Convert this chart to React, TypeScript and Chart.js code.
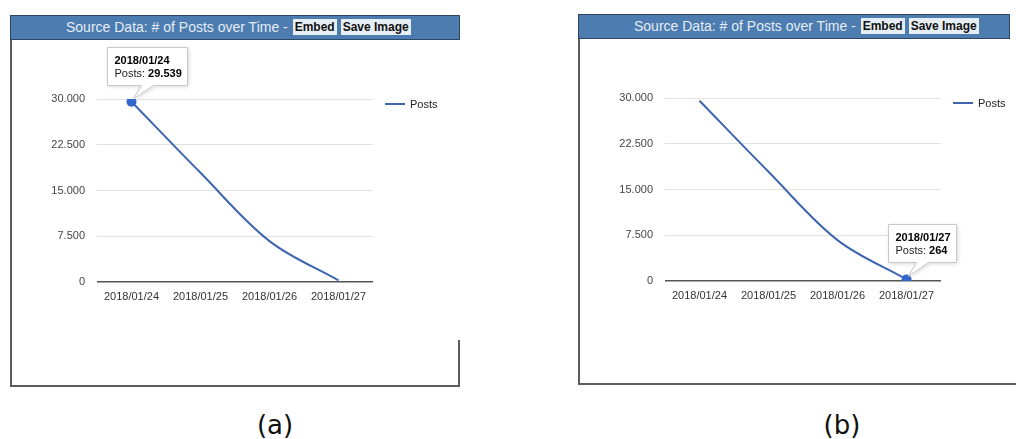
import React, { useEffect, useRef } from "react";
import { Chart, registerables } from "chart.js";

Chart.register(...registerables);

const categories = ["2018/01/24", "2018/01/25", "2018/01/26", "2018/01/27"];
const postsValues = [29539, 17900, 6700, 264];
const yTicks = [0, 7500, 15000, 22500, 30000];
const seriesName = "Posts";
const headerTitle = "Source Data: # of Posts over Time - ";
const buttonLabels = ["Embed", "Save Image"];
const captions = ["(a)", "(b)"];
const highlighted = [0, 3];

const FONT = "Arial, 'Liberation Sans', sans-serif";
const LINE_COLOR = "#3f65b0";
const POINT_COLOR = "#3366cc";

function fmt(v: number): string {
  return String(Math.round(v)).replace(/\B(?=(\d{3})+(?!\d))/g, ".");
}

const legendPlugin = {
  id: "sideLegend",
  afterDraw(chart: any) {
    const { ctx, chartArea } = chart;
    const ds = chart.data.datasets[0];
    const x = chartArea.right + 12;
    const y = chartArea.top + 5;
    ctx.save();
    ctx.strokeStyle = ds.borderColor;
    ctx.lineWidth = 2;
    ctx.beginPath();
    ctx.moveTo(x, y);
    ctx.lineTo(x + 20, y);
    ctx.stroke();
    ctx.fillStyle = "#222";
    ctx.font = `11px ${FONT}`;
    ctx.textBaseline = "middle";
    ctx.textAlign = "left";
    ctx.fillText(ds.label, x + 25, y + 1);
    ctx.restore();
  },
};

const calloutPlugin = {
  id: "calloutTip",
  afterDatasetsDraw(chart: any, _args: any, opts: any) {
    const i = opts.index;
    const meta = chart.getDatasetMeta(0);
    const el = meta.data[i];
    if (!el) return;
    const px = el.x;
    const py = el.y;
    const ds = chart.data.datasets[0];
    const title = String(chart.data.labels[i]);
    const prefix = ds.label + ": ";
    const val = fmt(ds.data[i]);
    const { ctx } = chart;
    ctx.save();
    ctx.font = `bold 11px ${FONT}`;
    const tw = ctx.measureText(title).width;
    const vw = ctx.measureText(val).width;
    ctx.font = `11px ${FONT}`;
    const pw = ctx.measureText(prefix).width;
    const w = Math.round(Math.max(tw, pw + vw) + 13);
    const h = 38;
    const bx = Math.round(px + 15 - w / 2) + 0.5;
    const by = Math.round(py - 55) + 0.5;
    ctx.beginPath();
    ctx.moveTo(bx, by);
    ctx.lineTo(bx + w, by);
    ctx.lineTo(bx + w, by + h);
    ctx.lineTo(px + 22, by + h);
    ctx.lineTo(px + 2, py - 3);
    ctx.lineTo(px + 10, by + h);
    ctx.lineTo(bx, by + h);
    ctx.closePath();
    ctx.shadowColor = "rgba(0,0,0,0.18)";
    ctx.shadowBlur = 4;
    ctx.shadowOffsetX = 1;
    ctx.shadowOffsetY = 1;
    ctx.fillStyle = "#fff";
    ctx.fill();
    ctx.shadowColor = "transparent";
    ctx.strokeStyle = "#c8c8c8";
    ctx.lineWidth = 1;
    ctx.stroke();
    ctx.textBaseline = "alphabetic";
    ctx.textAlign = "left";
    ctx.fillStyle = "#000";
    ctx.font = `bold 11px ${FONT}`;
    ctx.fillText(title, bx + 7, by + 16);
    ctx.font = `11px ${FONT}`;
    ctx.fillStyle = "#222";
    ctx.fillText(prefix, bx + 7, by + 29);
    ctx.font = `bold 11px ${FONT}`;
    ctx.fillStyle = "#000";
    ctx.fillText(val, bx + 7 + pw, by + 29);
    ctx.restore();
  },
};

function PostsChart({ width, height, highlight }: { width: number; height: number; highlight: number }) {
  const ref = useRef<HTMLCanvasElement>(null);
  useEffect(() => {
    const chart = new Chart(ref.current as HTMLCanvasElement, {
      type: "line",
      data: {
        labels: categories,
        datasets: [
          {
            label: seriesName,
            data: postsValues,
            borderColor: LINE_COLOR,
            borderWidth: 2,
            tension: 0.35,
            fill: false,
            pointRadius: (c: any) => (c.dataIndex === highlight ? 5 : 0),
            pointHoverRadius: (c: any) => (c.dataIndex === highlight ? 5 : 0),
            pointBackgroundColor: POINT_COLOR,
            pointBorderColor: POINT_COLOR,
            pointBorderWidth: 0,
          } as any,
        ],
      },
      options: {
        responsive: false,
        animation: false,
        events: [],
        layout: { padding: { top: 58, left: 0, right: width - 363, bottom: 0 } },
        plugins: {
          legend: { display: false },
          tooltip: { enabled: false },
          calloutTip: { index: highlight },
        } as any,
        scales: {
          y: {
            min: yTicks[0],
            max: yTicks[yTicks.length - 1],
            afterBuildTicks: (s: any) => {
              s.ticks = yTicks.map((v) => ({ value: v }));
            },
            afterFit: (s: any) => {
              s.width = 87;
            },
            ticks: {
              callback: (v: any) => fmt(Number(v)),
              font: { family: FONT, size: 11 },
              color: "#444",
              padding: 12,
            },
            grid: {
              drawTicks: false,
              color: (c: any) => (c.tick && c.tick.value === 0 ? "#555" : "#e2e2e2"),
              lineWidth: (c: any) => (c.tick && c.tick.value === 0 ? 1.5 : 1),
            },
            border: { display: false },
          },
          x: {
            offset: true,
            afterFit: (s: any) => {
              s.height = height - 241;
            },
            ticks: {
              font: { family: FONT, size: 11 },
              color: "#333",
              padding: 8,
              maxRotation: 0,
              autoSkip: false,
            },
            grid: { display: false, drawTicks: false },
            border: { display: false },
          },
        },
      },
      plugins: [legendPlugin, calloutPlugin],
    });
    return () => chart.destroy();
  }, [width, height, highlight]);
  return (
    <canvas
      ref={ref}
      width={width}
      height={height}
      style={{ position: "absolute", left: 0, top: 0, width, height, display: "block" }}
    />
  );
}

function Header({ width }: { width: number }) {
  return (
    <div
      style={{
        position: "absolute",
        left: 0,
        top: 0,
        width,
        height: 25,
        boxSizing: "border-box",
        background: "#4d7cb0",
        border: "1px solid #2c4763",
        paddingLeft: 55,
        lineHeight: "23px",
        fontFamily: FONT,
        fontSize: 14,
        color: "#e4edf6",
        whiteSpace: "nowrap",
      }}
    >
      <span>{headerTitle}</span>
      {buttonLabels.map((b, i) => (
        <span
          key={b}
          style={{
            display: "inline-block",
            background: "#e6eef5",
            color: "#111",
            fontWeight: "bold",
            fontSize: 12,
            lineHeight: "16px",
            padding: "0 2px",
            marginLeft: i === 0 ? 1 : 4,
            verticalAlign: "middle",
            position: "relative",
            top: -1,
          }}
        >
          {b}
        </span>
      ))}
    </div>
  );
}

export default function App() {
  return (
    <div
      style={{
        position: "fixed",
        left: 0,
        top: 0,
        width: 1016,
        height: 439,
        background: "#fff",
        overflow: "hidden",
      }}
    >
      {/* Panel (a) */}
      <div style={{ position: "absolute", left: 10, top: 15, width: 450, height: 372 }}>
        <Header width={450} />
        <div
          style={{
            position: "absolute",
            left: 0,
            top: 25,
            width: 450,
            height: 347,
            boxSizing: "border-box",
            borderLeft: "2px solid #5c5c5c",
            borderBottom: "2px solid #5c5c5c",
          }}
        />
        <div
          style={{ position: "absolute", left: 448, top: 325, width: 2, height: 47, background: "#5c5c5c" }}
        />
        <div style={{ position: "absolute", left: 0, top: 26, width: 449, height: 344 }}>
          <PostsChart width={449} height={344} highlight={highlighted[0]} />
        </div>
      </div>

      {/* Panel (b) */}
      <div style={{ position: "absolute", left: 578, top: 14, width: 438, height: 372 }}>
        <Header width={432} />
        <div
          style={{
            position: "absolute",
            left: 0,
            top: 25,
            width: 438,
            height: 346,
            boxSizing: "border-box",
            borderLeft: "2px solid #5c5c5c",
            borderBottom: "2px solid #5c5c5c",
          }}
        />
        <div style={{ position: "absolute", left: 0, top: 26, width: 438, height: 344 }}>
          <PostsChart width={438} height={344} highlight={highlighted[1]} />
        </div>
      </div>

      {captions.map((c, i) => (
        <div
          key={c}
          style={{
            position: "absolute",
            left: i === 0 ? 225 : 792,
            top: 410,
            width: 100,
            textAlign: "center",
            fontFamily: "'DejaVu Sans', sans-serif",
            fontSize: 26,
            lineHeight: "30px",
            color: "#111",
          }}
        >
          {c}
        </div>
      ))}
    </div>
  );
}
